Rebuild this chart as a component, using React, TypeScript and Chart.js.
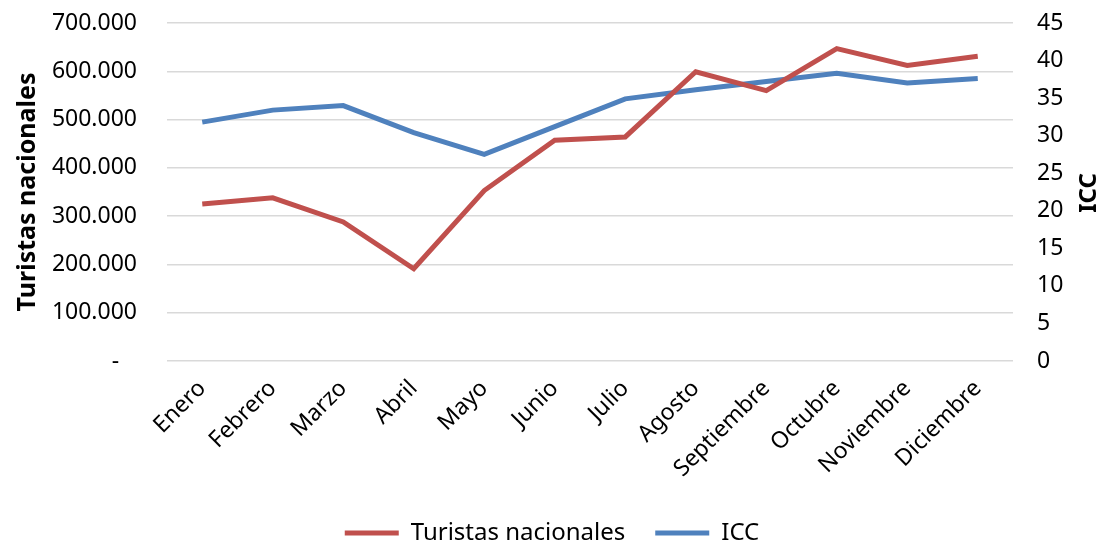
import React, { useEffect, useRef } from "react";
import { Chart, registerables } from "chart.js";

Chart.register(...registerables);

const months = ["Enero", "Febrero", "Marzo", "Abril", "Mayo", "Junio", "Julio", "Agosto", "Septiembre", "Octubre", "Noviembre", "Diciembre"];
const turistas = [325000, 338000, 288000, 191000, 353000, 457000, 464000, 599000, 560000, 647000, 612000, 631000];
const icc = [31.8, 33.4, 34.0, 30.4, 27.5, 31.2, 34.9, 36.1, 37.2, 38.3, 37.0, 37.6];
const leftTickLabels = ["-   ", "100.000", "200.000", "300.000", "400.000", "500.000", "600.000", "700.000"];
const rightTickLabels = ["0", "5", "10", "15", "20", "25", "30", "35", "40", "45"];
const leftTitle = "Turistas nacionales";
const rightTitle = "ICC";

const RED = "#C0504D";
const BLUE = "#4F81BD";
const FONT = "'Noto Sans', sans-serif";

const rightTitlePlugin = {
  id: "rightTitle",
  afterDraw(chart: any) {
    const ctx = chart.ctx;
    ctx.save();
    ctx.font = `bold 24px ${FONT}`;
    ctx.fillStyle = "#000";
    ctx.textAlign = "center";
    ctx.textBaseline = "middle";
    ctx.translate(1089, 193);
    ctx.rotate(-Math.PI / 2);
    ctx.fillText(rightTitle, 0, 0);
    ctx.restore();
  },
};

export default function App() {
  const ref = useRef<HTMLCanvasElement>(null);
  useEffect(() => {
    if (!ref.current) return;
    const chart = new Chart(ref.current, {
      type: "line",
      data: {
        labels: months,
        datasets: [
          {
            label: "Turistas nacionales",
            data: turistas,
            borderColor: RED,
            backgroundColor: RED,
            borderWidth: 5,
            pointRadius: 0,
            tension: 0,
            yAxisID: "y",
          },
          {
            label: "ICC",
            data: icc,
            borderColor: BLUE,
            backgroundColor: BLUE,
            borderWidth: 5,
            pointRadius: 0,
            tension: 0,
            yAxisID: "y1",
          },
        ],
      },
      options: {
        animation: false,
        responsive: true,
        maintainAspectRatio: false,
        layout: { padding: { top: 23, left: 0, right: 0, bottom: -12 } },
        plugins: {
          tooltip: { enabled: false },
          legend: {
            position: "bottom",
            labels: {
              font: { family: FONT, size: 24 },
              color: "#000",
              boxWidth: 54,
              boxHeight: 5,
              padding: 30,
              generateLabels: (c: any) => {
                const items = Chart.defaults.plugins.legend.labels.generateLabels(c);
                return items.map((it: any) => ({ ...it, lineWidth: 0, fillStyle: it.strokeStyle }));
              },
            },
          },
        },
        scales: {
          x: {
            offset: true,
            grid: { display: false },
            border: { display: false },
            ticks: {
              autoSkip: false,
              maxRotation: 45,
              minRotation: 45,
              padding: 6,
              color: "#000",
              font: { family: FONT, size: 23 },
            },
            afterFit: (s: any) => {
              s.height = 130;
            },
          },
          y: {
            position: "left",
            min: 0,
            max: 700000,
            ticks: {
              stepSize: 100000,
              padding: 30,
              color: "#000",
              font: { family: FONT, size: 23 },
              callback: (_v: any, i: number) => leftTickLabels[i],
            },
            grid: { color: "#D9D9D9", lineWidth: 1.5, drawTicks: false },
            border: { display: false },
            title: {
              display: true,
              text: leftTitle,
              color: "#000",
              font: { family: FONT, size: 25, weight: "bold" },
              padding: { top: 13, bottom: 0 },
            },
            afterFit: (s: any) => {
              s.width = 167;
              s.paddingTop = 10;
              s.paddingBottom = 10;
            },
          },
          y1: {
            position: "right",
            min: 0,
            max: 45,
            ticks: {
              stepSize: 5,
              padding: 24,
              color: "#000",
              font: { family: FONT, size: 23 },
              callback: (_v: any, i: number) => rightTickLabels[i],
            },
            grid: { display: false, drawTicks: false },
            border: { display: false },
            afterFit: (s: any) => {
              s.width = 91;
              s.paddingTop = 10;
              s.paddingBottom = 10;
            },
          },
        },
      },
      plugins: [rightTitlePlugin],
    });
    return () => chart.destroy();
  }, []);
  return (
    <div style={{ position: "fixed", left: 0, top: 0, width: 1104, height: 543, background: "#fff" }}>
      <canvas ref={ref} />
    </div>
  );
}
